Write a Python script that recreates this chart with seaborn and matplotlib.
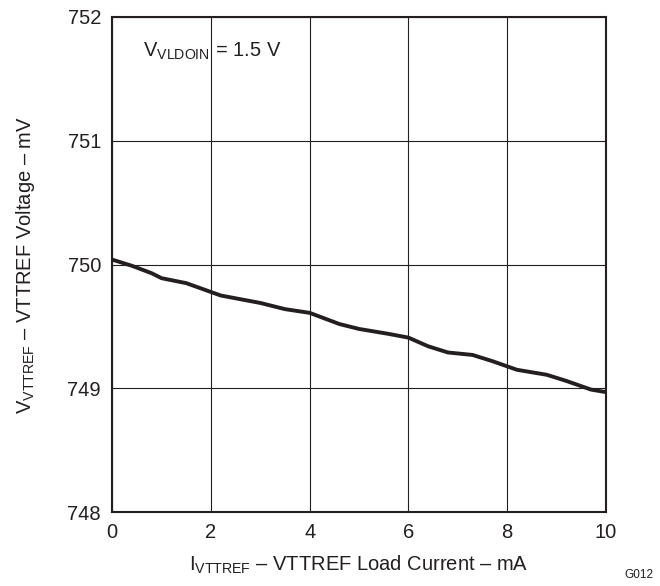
import matplotlib
matplotlib.use("Agg")
import matplotlib.pyplot as plt
import seaborn as sns
import pandas as pd

current_ma = [0, 0.4, 0.8, 1.0, 1.5, 2.2, 2.6, 3.0, 3.5, 4.0, 4.6, 5.0, 5.6, 6.0,
              6.4, 6.8, 7.3, 7.7, 8.2, 8.8, 9.2, 9.7, 10]
voltage_mv = [750.04, 749.99, 749.93, 749.89, 749.85, 749.75, 749.72, 749.69, 749.64,
              749.61, 749.52, 749.48, 749.44, 749.41, 749.34, 749.29, 749.27, 749.22,
              749.15, 749.11, 749.06, 748.99, 748.97]
x_ticks = [0, 2, 4, 6, 8, 10]
y_ticks = [748, 749, 750, 751, 752]

sns.set_theme(style="white")
plt.rcParams['font.family'] = ['Liberation Sans', 'DejaVu Sans']
plt.rcParams['mathtext.fontset'] = 'custom'
plt.rcParams['mathtext.rm'] = 'Liberation Sans'

df = pd.DataFrame({"I": current_ma, "V": voltage_mv})

fig = plt.figure(figsize=(6.6, 5.86), dpi=100)
ax = fig.add_axes([0.170, 0.126, 0.748, 0.845])
sns.lineplot(data=df, x="I", y="V", ax=ax, color="#231f20", linewidth=2.8)

ax.set_xlim(0, 10)
ax.set_ylim(748, 752)
ax.set_xticks(x_ticks)
ax.set_yticks(y_ticks)
ax.grid(True, color="#231f20", linewidth=0.8)
ax.tick_params(axis="x", length=0, labelsize=14.5, colors="#231f20", pad=8)
ax.tick_params(axis="y", length=0, labelsize=14.5, colors="#231f20", pad=8)
for s in ax.spines.values():
    s.set_visible(True)
    s.set_color("#231f20")
    s.set_linewidth(1.5)

ax.set_xlabel(r"$\mathregular{I_{VTTREF}}$ – VTTREF Load Current – mA", fontsize=14.5, color="#231f20", labelpad=8)
ax.set_ylabel(r"$\mathregular{V_{VTTREF}}$ – VTTREF Voltage – mV", fontsize=14.5, color="#231f20", labelpad=22)
ax.text(0.62, 751.68, r"$\mathregular{V_{VLDOIN}}$ = 1.5 V", fontsize=14.5, color="#231f20", va="baseline")
fig.text(0.99, 0.008, "G012", fontsize=8.5, ha="right", va="bottom", color="#231f20")

fig.savefig("out.png", dpi=100)
